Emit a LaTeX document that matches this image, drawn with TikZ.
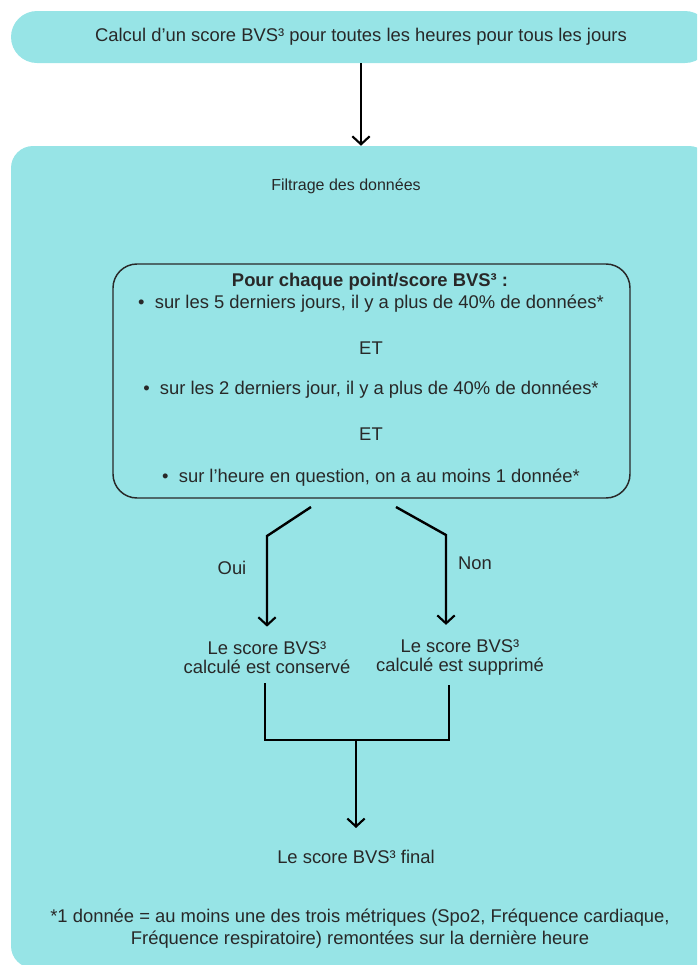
\documentclass[tikz,border=0pt]{standalone}
\usepackage{fontspec}
\setmainfont{Liberation Sans}
\usetikzlibrary{arrows.meta, positioning, calc}
\definecolor{flowcyan}{RGB}{151,228,230}
\definecolor{flowtext}{RGB}{40,40,40}
\tikzset{
  topbox/.style={
    fill=flowcyan, rounded corners=19.5pt, align=center,
    minimum width=525pt, minimum height=39pt,
    font=\fontsize{13.8}{16}\selectfont, text=flowtext
  },
  panel/.style={
    fill=flowcyan, rounded corners=16.5pt,
    minimum width=525pt, minimum height=616.5pt
  },
  condbox/.style={
    draw=flowtext, line width=1.1pt, rounded corners=18pt,
    minimum width=387.75pt, minimum height=175.5pt
  },
  plaintext/.style={
    font=\fontsize{13.8}{16.5}\selectfont, text=flowtext,
    align=center, inner sep=0pt
  },
  resulttext/.style={plaintext, font=\fontsize{13.8}{14.5}\selectfont, outer ysep=7pt},
  stepline/.style={line width=1.8pt, black},
  steparrow/.style={stepline, -{Straight Barb[length=6pt, width=13pt, line width=1.6pt]}},
}

\begin{document}
\begin{tikzpicture}[x=0.75pt, y=-0.75pt]
  \useasboundingbox (0,0) rectangle (697,965);
  \clip (0,0) rectangle (697,965);

  % Panels
  \node[topbox] (calc) at (361,37) {Calcul d’un score BVS³ pour toutes les heures pour tous les jours};
  \node[panel] (filtre) at (361,557) {};
  \node[plaintext, font=\fontsize{12}{14}\selectfont] (titre) at (346,186) {Filtrage des données};

  % Conditions
  \node[condbox] (cond) at (371.5,381) {};
  \node[plaintext, font=\fontsize{13.8}{16.5}\selectfont\bfseries] (entete) at (370,282) {Pour chaque point/score BVS³ :};
  \node[plaintext] (crit1) at (371,304) {•\ \ sur les 5 derniers jours, il y a plus de 40\% de données*};
  \node[plaintext] (et1) at (371,348) {ET};
  \node[plaintext] (crit2) at (371,390) {•\ \ sur les 2 derniers jour, il y a plus de 40\% de données*};
  \node[plaintext] (et2) at (371,434) {ET};
  \node[plaintext] (crit3) at (371,478) {•\ \ sur l’heure en question, on a au moins 1 donnée*};

  % Results
  \node[resulttext] (conserve) at (267,657.5) {Le score BVS³\\calculé est conservé};
  \node[resulttext] (supprime) at (460,657.5) {Le score BVS³\\calculé est supprimé};
  \node[plaintext] (oui) at (232,568) {Oui};
  \node[plaintext] (non) at (475,563) {Non};
  \node[plaintext] (final) at (356,857) {Le score BVS³ final};

  % Footnote
  \node[plaintext] (note) at (360,929) {*1 donnée = au moins une des trois métriques (Spo2, Fréquence cardiaque,\\Fréquence respiratoire) remontées sur la dernière heure};

  % Branch points
  \coordinate (ouiStart) at (311,507);
  \coordinate (ouiBend) at (267,536);
  \coordinate (nonStart) at (396,507);
  \coordinate (nonBend) at (446,535);
  \coordinate (joinL) at (265,740);
  \coordinate (joinR) at (449,740);
  \coordinate (joinM) at (356,740);

  % Arrows
  \draw[steparrow] (calc.south) -- (filtre.north);
  \draw[steparrow, shorten >=4pt] (ouiStart) -- (ouiBend) -- (ouiBend |- conserve.north);
  \draw[steparrow, shorten >=4pt] (nonStart) -- (nonBend) -- (nonBend |- supprime.north);
  \draw[stepline] (joinL |- conserve.south) -- (joinL) -- (joinR) -- (joinR |- supprime.south);
  \draw[steparrow] (joinM) -- ($(final.north)+(0,-22)$);
\end{tikzpicture}
\end{document}
